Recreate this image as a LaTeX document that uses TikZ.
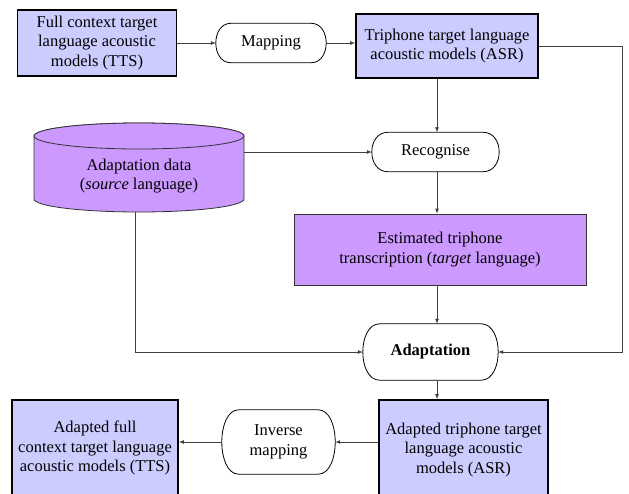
\documentclass[tikz,border=0pt]{standalone}
\usepackage{fontspec}
\setmainfont{LiberationSerif}[Extension=.ttf, UprightFont=*-Regular, BoldFont=*-Bold, ItalicFont=*-Italic, BoldItalicFont=*-BoldItalic]
\usetikzlibrary{calc,arrows.meta}
\definecolor{lblue}{HTML}{CCCCFF}
\definecolor{lpurp}{HTML}{CC99FF}
\definecolor{conn}{HTML}{404040}
\newcommand{\termshape}[2]{%
  \filldraw[fill=white, draw=black, line width=0.8pt]
    ($(#1.north west)+(#2,0)$) -- ($(#1.north east)+(-#2,0)$)
    .. controls ($(#1.north east)+(#2/3,0)$) and ($(#1.south east)+(#2/3,0)$) .. ($(#1.south east)+(-#2,0)$)
    -- ($(#1.south west)+(#2,0)$)
    .. controls ($(#1.south west)+(-#2/3,0)$) and ($(#1.north west)+(-#2/3,0)$) .. cycle;}
\begin{document}
\begin{tikzpicture}[x=1pt,y=-1pt,
  font=\fontsize{16.5}{19.5}\selectfont,
  model/.style={draw=black, line width=1.8pt, fill=lblue, align=center, inner sep=0pt},
  datbox/.style={draw=black!80, line width=0.8pt, fill=lpurp, align=center, inner sep=0pt},
  proc/.style={align=center, inner sep=0pt},
  arr/.style={draw=conn, line width=0.8pt, -{Latex[length=5pt,width=4pt]}}]
\clip (0,0) rectangle (629,493);
\fill[white] (0,0) rectangle (629,493);

% nodes
\node[model, minimum width=159pt, minimum height=66pt] (tts) at (97,43) {Full context target\\language acoustic\\models (TTS)};
\node[proc, minimum width=110pt, minimum height=39pt] (map) at (271,43) {};
\termshape{map}{15}
\node[proc] at (map) {Mapping};
\node[model, minimum width=182pt, minimum height=64pt] (asr) at (447,46) {Triphone target language\\acoustic models (ASR)};
\node[proc, minimum width=127pt, minimum height=39pt] (recog) at (435.5,152) {};
\termshape{recog}{16}
\node[proc] at (recog) {Recognise};

% cylinder
\filldraw[fill=lpurp, draw=black!80, line width=0.8pt]
  (34,136) -- (34,199) arc[start angle=180, end angle=0, x radius=105, y radius=13]
  -- (244,136) arc[start angle=0, end angle=-180, x radius=105, y radius=13] -- cycle;
\filldraw[fill=lpurp, draw=black!80, line width=0.8pt] (139,136) ellipse [x radius=105, y radius=13];
\node[align=center] (cyl) at (139,176) {Adaptation data\\(\textit{source} language)};
\coordinate (cylE) at (244,152);
\coordinate (cylS) at (135,212);

\node[datbox, minimum width=292pt, minimum height=71pt] (est) at (440,249.5) {Estimated triphone\\transcription (\textit{target} language)};
\node[proc, minimum width=135pt, minimum height=56pt] (adapt) at (430.5,352) {};
\termshape{adapt}{17}
\node[proc] at (adapt) {\textbf{Adaptation}};
\node[proc, minimum width=113pt, minimum height=64pt] (inv) at (278.5,442) {};
\termshape{inv}{17}
\node[proc] at (inv) {Inverse\\mapping};
\node[model, minimum width=166pt, minimum height=96pt] (bl) at (95,448) {Adapted full\\context target language\\acoustic models (TTS)};
\node[model, minimum width=169pt, minimum height=100pt] (br) at (463.5,450) {Adapted triphone target\\language acoustic\\models (ASR)};

\coordinate (vx) at (437,0);
\coordinate (rc) at (622,0);

% connectors
\draw[arr] (tts.east) -- (map.west);
\draw[arr] (map.east) -- (map.east -| asr.west);
\draw[arr] (asr.east) -- (asr.east -| rc) |- (adapt.east);
\draw[arr] (asr.south -| vx) -- (recog.north -| vx);
\draw[arr] (cylE) -- (cylE -| recog.west);
\draw[arr] (recog.south -| vx) -- (est.north -| vx);
\draw[arr] (est.south -| vx) -- (adapt.north -| vx);
\draw[arr] (cylS) |- (adapt.west);
\draw[arr] (adapt.south -| vx) -- (br.north -| vx);
\draw[arr] (br.west |- inv.east) -- (inv.east);
\draw[arr] (inv.west) -- (inv.west -| bl.east);
\end{tikzpicture}
\end{document}
